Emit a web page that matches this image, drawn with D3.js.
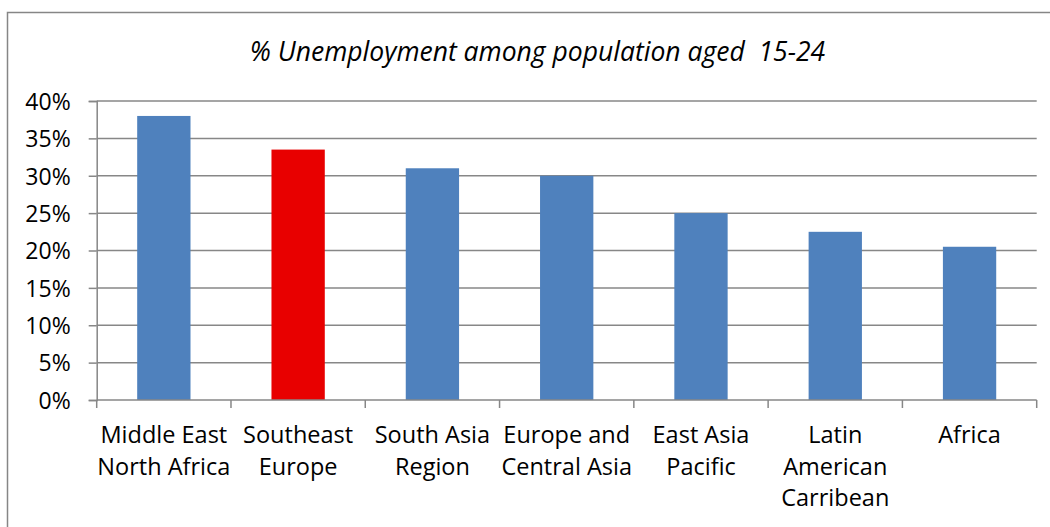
<!DOCTYPE html>
<html><head><meta charset="utf-8">
<script src="https://cdn.jsdelivr.net/npm/d3@7"></script>
<style>
html,body{margin:0;padding:0;background:#fff;}
svg{display:block;}
text{font-family:"Open Sans",sans-serif;fill:#000;}
</style></head>
<body>
<svg id="chart" width="1050" height="527"></svg>
<script>
const categories = ["Middle East North Africa","Southeast Europe","South Asia Region","Europe and Central Asia","East Asia Pacific","Latin American Carribean","Africa"];
const categoryLines = [["Middle East","North Africa"],["Southeast","Europe"],["South Asia","Region"],["Europe and","Central Asia"],["East Asia","Pacific"],["Latin","American","Carribean"],["Africa"]];
const values = [38, 33.5, 31, 30, 25, 22.5, 20.5];
const highlight = ["Southeast Europe"];
const yTicks = [0,5,10,15,20,25,30,35,40];
const titleText = "% Unemployment among population aged  15-24";

(function(){
const svg = d3.select("#chart");
const pl = 96.7, pr = 1036.7, pt = 101, pb = 400;

// frame
svg.append("path").attr("d","M7.5,527 V12.5 H1050").attr("fill","none").attr("stroke","#868686").attr("stroke-width",1.5);

const x = d3.scaleBand().domain(categories).range([pl,pr]).padding(0);
const y = d3.scaleLinear().domain([0,40]).range([pb,pt]);

// gridlines
svg.append("g").selectAll("line").data(yTicks.filter(d=>d>0)).join("line")
  .attr("x1",pl).attr("x2",pr).attr("y1",d=>y(d)).attr("y2",d=>y(d))
  .attr("stroke","#878787").attr("stroke-width",1.5);

// y axis
const yAxis = svg.append("g").attr("transform",`translate(${pl},0)`)
  .call(d3.axisLeft(y).tickValues(yTicks).tickSize(8).tickPadding(18).tickFormat(d=>d+"%"));
yAxis.select(".domain").attr("stroke","#878787").attr("stroke-width",1.5);
yAxis.selectAll(".tick line").attr("stroke","#878787").attr("stroke-width",1.5);
yAxis.selectAll(".tick text").attr("font-size",23).attr("font-family","Open Sans").attr("fill","#000").attr("dy","0.36em");

// bars
const bw = x.bandwidth()*0.397;
svg.append("g").selectAll("rect").data(values).join("rect")
  .attr("x",(d,i)=>x(categories[i])+x.bandwidth()/2-bw/2)
  .attr("width",bw)
  .attr("y",d=>y(d)).attr("height",d=>y(0)-y(d))
  .attr("fill",(d,i)=>highlight.includes(categories[i])?"#E80000":"#4F81BD");

// x axis
const xAxis = svg.append("g").attr("transform",`translate(0,${pb})`);
xAxis.append("line").attr("x1",pl).attr("x2",pr).attr("stroke","#878787").attr("stroke-width",1.5);
const edges = categories.map(c=>x(c)).concat([pr]);
xAxis.selectAll("line.tk").data(edges).join("line").attr("class","tk")
  .attr("x1",d=>d).attr("x2",d=>d).attr("y1",0).attr("y2",8)
  .attr("stroke","#878787").attr("stroke-width",1.5);
const lbl = xAxis.selectAll("text.cat").data(categories).join("text").attr("class","cat")
  .attr("text-anchor","middle").attr("font-size",23.5)
  .attr("transform",d=>`translate(${x(d)+x.bandwidth()/2},43)`);
lbl.each(function(d,i){
  const t = d3.select(this);
  categoryLines[i].forEach((ln,j)=>t.append("tspan").attr("x",0).attr("y",j*31.5).text(ln));
});

// title
svg.append("text").attr("x",537.5).attr("y",61).attr("text-anchor","middle")
  .style("white-space","pre")
  .attr("font-size",26.5).attr("font-style","italic").text(titleText);
})();
</script>
</body></html>
